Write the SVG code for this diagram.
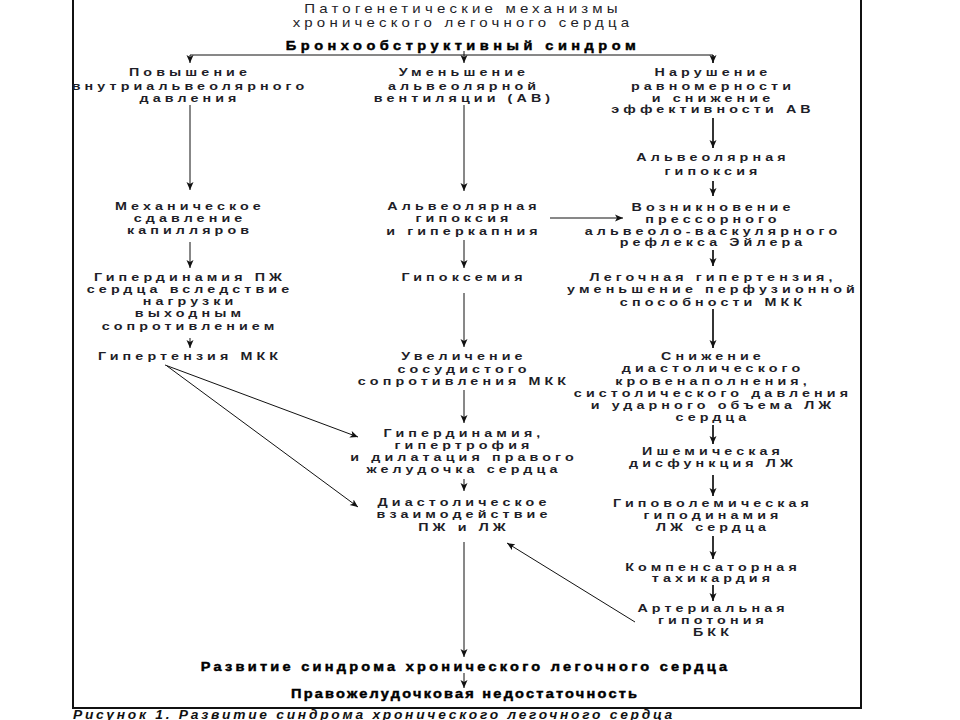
<svg xmlns="http://www.w3.org/2000/svg" width="960" height="720" viewBox="0 0 960 720">
<style>
text{font-family:"Liberation Sans",Arial,sans-serif;text-anchor:middle;fill:#1e1e28}
.n text{font-size:11px;font-weight:bold;letter-spacing:3.15px}
.ti{font-size:12.5px;letter-spacing:3.5px}
.h{font-size:13px;font-weight:bold;letter-spacing:4px;fill:#000;stroke:#000;stroke-width:0.45px}
.hl{font-size:13px;font-weight:bold;fill:#000;stroke:#000;stroke-width:0.45px}
.cap{font-size:12px;font-weight:bold;font-style:italic;text-anchor:start;fill:#111}
.c{stroke:#111;stroke-width:1;fill:none}
.ct{stroke:#111;stroke-width:1.7;fill:none}
</style>
<defs>
<marker id="a" markerUnits="userSpaceOnUse" markerWidth="9" markerHeight="8" refX="8" refY="4" orient="auto">
<path d="M0,0.5 L8,4 L0,7.5 L2,4 z" fill="#111"/>
</marker>
</defs>
<rect x="0" y="0" width="960" height="720" fill="#fff"/>
<rect x="73" y="-3" width="788" height="711" fill="none" stroke="#111" stroke-width="2"/>

<g id="title" transform="translate(463,0) scale(1.2,1)">
<text class="ti" x="0" y="13">Патогенетические механизмы</text>
<text class="ti" x="0" y="27">хронического легочного сердца</text>
</g>
<g id="broncho" transform="translate(463,0) scale(1.12,1)"><text class="h" x="0" y="50">Бронхообструктивный синдром</text></g>

<g id="L1" class="n" transform="translate(190,0) scale(1.3,1)"><text x="0" y="76">Повышение</text><text x="0" y="90">внутриальвеолярного</text><text x="0" y="102">давления</text></g>
<g id="L2" class="n" transform="translate(190,0) scale(1.3,1)"><text x="0" y="210">Механическое</text><text x="0" y="222">сдавление</text><text x="0" y="234">капилляров</text></g>
<g id="L3" class="n" transform="translate(190,0) scale(1.3,1)"><text x="0" y="281">Гипердинамия ПЖ</text><text x="0" y="293">сердца вследствие</text><text x="0" y="305">нагрузки</text><text x="0" y="317">выходным</text><text x="0" y="330">сопротивлением</text></g>
<g id="L4" class="n" transform="translate(190,0) scale(1.3,1)"><text x="0" y="360">Гипертензия МКК</text></g>

<g id="M1" class="n" transform="translate(464,0) scale(1.3,1)"><text x="0" y="76">Уменьшение</text><text x="0" y="90">альвеолярной</text><text x="0" y="102">вентиляции (АВ)</text></g>
<g id="M2" class="n" transform="translate(464,0) scale(1.3,1)"><text x="0" y="210">Альвеолярная</text><text x="0" y="222">гипоксия</text><text x="0" y="235">и гиперкапния</text></g>
<g id="M3" class="n" transform="translate(464,0) scale(1.3,1)"><text x="0" y="281">Гипоксемия</text></g>
<g id="M4" class="n" transform="translate(464,0) scale(1.3,1)"><text x="0" y="360">Увеличение</text><text x="0" y="373">сосудистого</text><text x="0" y="385">сопротивления МКК</text></g>
<g id="M5" class="n" transform="translate(464,0) scale(1.3,1)"><text x="0" y="437">Гипердинамия,</text><text x="0" y="449">гипертрофия</text><text x="0" y="461">и дилатация правого</text><text x="0" y="473">желудочка сердца</text></g>
<g id="M6" class="n" transform="translate(464,0) scale(1.3,1)"><text x="0" y="506">Диастолическое</text><text x="0" y="518">взаимодействие</text><text x="0" y="531">ПЖ и ЛЖ</text></g>

<g id="R1" class="n" transform="translate(713,0) scale(1.3,1)"><text x="0" y="76">Нарушение</text><text x="0" y="90">равномерности</text><text x="0" y="102">и снижение</text><text x="0" y="113">эффективности АВ</text></g>
<g id="R2" class="n" transform="translate(713,0) scale(1.3,1)"><text x="0" y="161">Альвеолярная</text><text x="0" y="175">гипоксия</text></g>
<g id="R3" class="n" transform="translate(713,0) scale(1.3,1)"><text x="0" y="211">Возникновение</text><text x="0" y="223">прессорного</text><text x="0" y="235">альвеоло-васкулярного</text><text x="0" y="246">рефлекса Эйлера</text></g>
<g id="R4" class="n" transform="translate(713,0) scale(1.3,1)"><text x="0" y="281">Легочная гипертензия,</text><text x="0" y="293">уменьшение перфузионной</text><text x="0" y="306">способности МКК</text></g>
<g id="R5" class="n" transform="translate(713,0) scale(1.3,1)"><text x="0" y="360">Снижение</text><text x="0" y="372">диастолического</text><text x="0" y="385">кровенаполнения,</text><text x="0" y="397">систолического давления</text><text x="0" y="409">и ударного объема ЛЖ</text><text x="0" y="421">сердца</text></g>
<g id="R6" class="n" transform="translate(713,0) scale(1.3,1)"><text x="0" y="455">Ишемическая</text><text x="0" y="467">дисфункция ЛЖ</text></g>
<g id="R7" class="n" transform="translate(713,0) scale(1.3,1)"><text x="0" y="507">Гиповолемическая</text><text x="0" y="519">гиподинамия</text><text x="0" y="531">ЛЖ сердца</text></g>
<g id="R8" class="n" transform="translate(713,0) scale(1.3,1)"><text x="0" y="571">Компенсаторная</text><text x="0" y="582">тахикардия</text></g>
<g id="R9" class="n" transform="translate(713,0) scale(1.3,1)"><text x="0" y="612">Артериальная</text><text x="0" y="624">гипотония</text><text x="0" y="636">БКК</text></g>

<g id="B1" transform="translate(464,0) scale(1.12,1)"><text class="hl" x="0" y="671" textLength="470" lengthAdjust="spacing">Развитие синдрома хронического легочного сердца</text></g>
<g id="B2" transform="translate(464,0) scale(1.12,1)"><text class="hl" x="0" y="698" textLength="309" lengthAdjust="spacing">Правожелудочковая недостаточность</text></g>

<g id="caption" transform="translate(73,0) scale(1.15,1)"><text class="cap" x="0" y="719" textLength="521" lengthAdjust="spacing">Рисунок 1. Развитие синдрома хронического легочного сердца</text></g>

<g id="connectors">
<path class="c" d="M190,55 H713"/>
<path class="c" d="M464,51 V55"/>
<path class="c" d="M190,55 V63" marker-end="url(#a)"/>
<path class="c" d="M464,55 V63" marker-end="url(#a)"/>
<path class="ct" d="M713,55 V63" marker-end="url(#a)"/>
<path class="c" d="M190,105 V190" marker-end="url(#a)"/>
<path class="c" d="M190,242 V268" marker-end="url(#a)"/>
<path class="c" d="M190,338 V348" marker-end="url(#a)"/>
<path class="c" d="M165,365 L358,437" marker-end="url(#a)"/>
<path class="c" d="M167,366 L358,507" marker-end="url(#a)"/>
<path class="c" d="M464,105 V191" marker-end="url(#a)"/>
<path class="c" d="M550,218 H623" marker-end="url(#a)"/>
<path class="c" d="M464,240 V268" marker-end="url(#a)"/>
<path class="c" d="M464,293 V347" marker-end="url(#a)"/>
<path class="c" d="M464,390 V423" marker-end="url(#a)"/>
<path class="c" d="M464,479 V491" marker-end="url(#a)"/>
<path class="c" d="M464,542 V657" marker-end="url(#a)"/>
<path class="c" d="M464,673 V688" marker-end="url(#a)"/>
<path class="ct" d="M713,118 V148" marker-end="url(#a)"/>
<path class="ct" d="M713,181 V196" marker-end="url(#a)"/>
<path class="ct" d="M713,250 V266" marker-end="url(#a)"/>
<path class="ct" d="M713,309 V348" marker-end="url(#a)"/>
<path class="ct" d="M713,425 V444" marker-end="url(#a)"/>
<path class="ct" d="M713,475 V496" marker-end="url(#a)"/>
<path class="ct" d="M713,536 V559" marker-end="url(#a)"/>
<path class="ct" d="M713,585 V601" marker-end="url(#a)"/>
<path class="c" d="M635,622 L507,543" marker-end="url(#a)"/>
</g>
</svg>
